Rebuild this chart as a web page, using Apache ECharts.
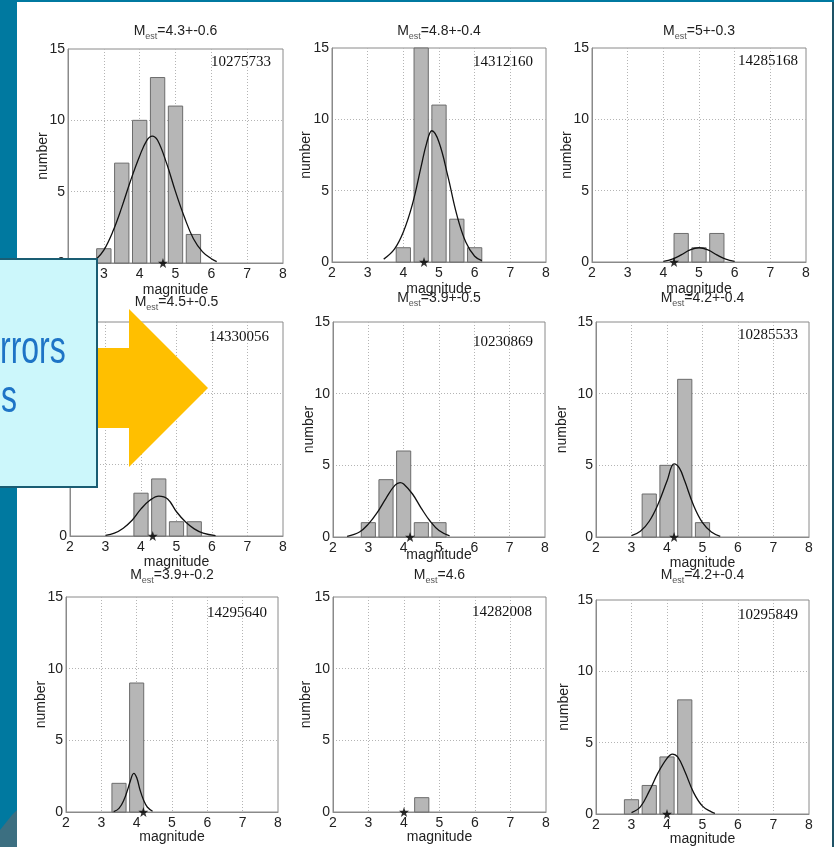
<!DOCTYPE html>
<html>
<head>
<meta charset="utf-8">
<script src="https://cdn.jsdelivr.net/npm/echarts@6/dist/echarts.min.js"></script>
<style>
  html, body { margin: 0; padding: 0; background: #0079a0; overflow: hidden; }
  #sheet { position: absolute; left: 17px; top: 2px; width: 815px; height: 845px; background: #fff; border-right: 2px solid #1e5266; }
  #chart { position: absolute; left: 0; top: 0; width: 834px; height: 847px; }
</style>
</head>
<body>
<div id="sheet"></div>
<div id="chart"></div>
<script>
// Event identifiers and estimated magnitudes (mean +- spread)
const eventIds = ['10275733', '14312160', '14285168', '14330056', '10230869', '10285533', '14295640', '14282008', '10295849'];
const estMean = ['4.3', '4.8', '5', '4.5', '3.9', '4.2', '3.9', '4.6', '4.2'];
const estSpread = ['0.6', '0.4', '0.3', '0.5', '0.5', '0.4', '0.2', '', '0.4'];
// Catalogue magnitude (star on the axis)
const catalogMag = [4.65, 4.58, 4.3, 4.33, 4.18, 4.2, 4.19, 4.0, 4.0];

// Histogram bins (magnitude bin centres) and counts
const bins1 = [3, 3.5, 4, 4.5, 5, 5.5];       const counts1 = [1, 7, 10, 13, 11, 2];
const bins2 = [4, 4.5, 5, 5.5, 6];            const counts2 = [1, 15, 11, 3, 1];
const bins3 = [4.5, 5, 5.5];                  const counts3 = [2, 1, 2];
const bins4 = [4, 4.5, 5, 5.5];               const counts4 = [3, 4, 1, 1];
const bins5 = [3, 3.5, 4, 4.5, 5];            const counts5 = [1, 4, 6, 1, 1];
const bins6 = [3.5, 4, 4.5, 5];               const counts6 = [3, 5, 11, 1];
const bins7 = [3.5, 4];                       const counts7 = [2, 9];
const bins8 = [4.5];                          const counts8 = [1];
const bins9 = [3, 3.5, 4, 4.5];               const counts9 = [1, 2, 4, 8];

// Fitted distribution curves (magnitude, number)
const fitMag1 = [2.8, 3.0, 3.25, 3.5, 3.75, 4.0, 4.2, 4.35, 4.5, 4.75, 5.0, 5.25, 5.5, 5.75, 6.0, 6.15];
const fitNum1 = [0.3, 0.9, 2.2, 3.9, 5.8, 7.5, 8.6, 8.9, 8.6, 7.0, 5.0, 3.2, 1.7, 0.8, 0.3, 0.1];
const fitMag2 = [3.45, 3.75, 4.0, 4.25, 4.5, 4.65, 4.8, 5.0, 5.25, 5.5, 5.75, 6.0, 6.2];
const fitNum2 = [0.2, 0.9, 2.1, 4.0, 6.7, 8.3, 9.2, 8.4, 6.0, 3.3, 1.4, 0.4, 0.1];
const fitMag3 = [4.0, 4.25, 4.5, 4.75, 5.0, 5.25, 5.5, 5.75, 6.0];
const fitNum3 = [0.05, 0.2, 0.5, 0.85, 1.0, 0.85, 0.5, 0.2, 0.05];
const fitMag4 = [3.0, 3.25, 3.5, 3.75, 4.0, 4.25, 4.5, 4.75, 5.0, 5.25, 5.5, 5.75, 6.1];
const fitNum4 = [0.05, 0.2, 0.55, 1.1, 1.9, 2.5, 2.8, 2.6, 1.7, 1.0, 0.5, 0.2, 0.03];
const fitMag5 = [2.4, 2.75, 3.0, 3.25, 3.5, 3.75, 3.9, 4.0, 4.25, 4.5, 4.75, 5.0, 5.3];
const fitNum5 = [0.05, 0.35, 0.9, 1.7, 2.7, 3.6, 3.8, 3.7, 3.0, 2.0, 1.1, 0.45, 0.08];
const fitMag6 = [3.0, 3.25, 3.5, 3.75, 4.0, 4.2, 4.35, 4.5, 4.75, 5.0, 5.25, 5.5];
const fitNum6 = [0.1, 0.4, 1.1, 2.3, 3.9, 5.1, 4.8, 3.9, 2.2, 1.0, 0.35, 0.05];
const fitMag7 = [3.35, 3.5, 3.65, 3.75, 3.8, 3.92, 4.0, 4.1, 4.2, 4.3, 4.45];
const fitNum7 = [0.02, 0.25, 0.9, 1.6, 2.0, 2.7, 2.4, 1.5, 0.8, 0.35, 0.05];
const fitMag8 = [];
const fitNum8 = [];
const fitMag9 = [3.0, 3.25, 3.5, 3.75, 4.0, 4.15, 4.3, 4.5, 4.75, 5.0, 5.25, 5.35];
const fitNum9 = [0.1, 0.5, 1.6, 2.9, 3.9, 4.2, 4.0, 3.0, 1.5, 0.55, 0.15, 0.05];

// Axis ticks
const magTicks = [2, 8, 1];   // min, max, step
const numTicks = [0, 15, 5];

const histBins = [bins1, bins2, bins3, bins4, bins5, bins6, bins7, bins8, bins9];
const histCounts = [counts1, counts2, counts3, counts4, counts5, counts6, counts7, counts8, counts9];
const fitMags = [fitMag1, fitMag2, fitMag3, fitMag4, fitMag5, fitMag6, fitMag7, fitMag8, fitMag9];
const fitNums = [fitNum1, fitNum2, fitNum3, fitNum4, fitNum5, fitNum6, fitNum7, fitNum8, fitNum9];

// ---- layout of the 3x3 panel grid (left, top, width, height) ----
const boxes = [
  [68, 49, 215, 214], [332, 48, 214, 214], [592, 48, 214, 214],
  [70, 322, 213, 214], [333, 322, 212, 215], [596, 322, 213, 215],
  [66, 597, 212, 215], [333, 597, 213, 215], [596, 600, 213, 214]
];
const titleY = [31, 31, 31, 302, 298, 298, 575, 575, 575];
const xNameGap = [20, 20, 20, 19, 11, 19, 18, 18, 18];
const yNameGap = [18, 19, 18, 18, 17, 27, 18, 20, 25];
const idInset = [12, 13, 8, 14, 12, 11, 11, 14, 11];
const idDrop = [13, 14, 13, 15, 20, 13, 16, 15, 15];

const SANS = '"Liberation Sans Narrow", "Liberation Sans", Arial, sans-serif';
const SERIF = '"Liberation Serif", "Times New Roman", serif';
const INK = '#222';
const FRAME = '#8a8a8a';
const BAR_HALF = 0.2; // half of the drawn bar width, in magnitude units

const grids = [], xAxes = [], yAxes = [], series = [], graphics = [];

boxes.forEach((b, i) => {
  grids.push({ left: b[0], top: b[1], width: b[2], height: b[3], show: true,
    borderColor: FRAME, borderWidth: 1, backgroundColor: '#fff' });

  xAxes.push({
    gridIndex: i, type: 'value', min: magTicks[0], max: magTicks[1], interval: magTicks[2],
    axisLine: { show: true, onZero: false, lineStyle: { color: FRAME, width: 1 } },
    axisTick: { show: false },
    axisLabel: { color: INK, fontSize: 14, fontFamily: SANS, margin: 4 },
    splitLine: { show: true, showMinLine: false, showMaxLine: false,
      lineStyle: { color: '#b4b4b4', type: [1, 2], width: 1 } },
    name: 'magnitude', nameLocation: 'middle', nameGap: xNameGap[i], nameMoveOverlap: false,
    nameTextStyle: { color: INK, fontSize: 14, fontFamily: SANS }
  });

  yAxes.push({
    gridIndex: i, type: 'value', min: numTicks[0], max: numTicks[1], interval: numTicks[2],
    axisLine: { show: true, onZero: false, lineStyle: { color: FRAME, width: 1 } },
    axisTick: { show: false },
    axisLabel: { color: INK, fontSize: 14, fontFamily: SANS, margin: 3 },
    splitLine: { show: true, showMinLine: false, showMaxLine: false,
      lineStyle: { color: '#b4b4b4', type: [1, 2], width: 1 } },
    name: 'number', nameLocation: 'middle', nameGap: yNameGap[i], nameRotate: 90, nameMoveOverlap: false,
    nameTextStyle: { color: INK, fontSize: 14, fontFamily: SANS }
  });

  // histogram bars
  series.push({
    type: 'custom', xAxisIndex: i, yAxisIndex: i, z: 2,
    data: histBins[i].map((m, j) => [m, histCounts[i][j]]),
    renderItem: (params, api) => {
      const m = api.value(0), n = api.value(1);
      const p0 = api.coord([m - BAR_HALF, n]);
      const p1 = api.coord([m + BAR_HALF, 0]);
      return {
        type: 'rect',
        shape: { x: p0[0], y: p0[1], width: p1[0] - p0[0], height: p1[1] - p0[1] },
        style: { fill: '#b6b6b6', stroke: '#6c6c6c', lineWidth: 1 }
      };
    }
  });

  // fitted curve
  if (fitMags[i].length) {
    series.push({
      type: 'line', xAxisIndex: i, yAxisIndex: i, z: 3,
      data: fitMags[i].map((m, j) => [m, fitNums[i][j]]),
      smooth: 0.4, symbol: 'none', silent: true,
      lineStyle: { color: '#111', width: 1.3 }
    });
  }

  // catalogue magnitude star
  series.push({
    type: 'scatter', xAxisIndex: i, yAxisIndex: i, z: 4, clip: false,
    data: [[catalogMag[i], 0]],
    symbol: 'path://M0,-10 L2.35,-3.24 L9.51,-3.09 L3.8,1.24 L5.88,8.09 L0,4 L-5.88,8.09 L-3.8,1.24 L-9.51,-3.09 L-2.35,-3.24 Z',
    symbolSize: 10, itemStyle: { color: '#000' }
  });

  // panel title: M_est = mean +- spread
  const tail = estSpread[i] ? '=' + estMean[i] + '+-' + estSpread[i] : '=' + estMean[i];
  graphics.push({
    type: 'text', x: b[0] + b[2] / 2, y: titleY[i] - 7, z: 10,
    style: {
      text: '{m|M}{s|est}{v|' + tail + '}',
      align: 'center', verticalAlign: 'top',
      rich: {
        m: { fontSize: 14, fontFamily: SANS, fill: INK, lineHeight: 14, verticalAlign: 'top' },
        s: { fontSize: 9, fontFamily: SANS, fill: '#555', lineHeight: 9, padding: [8, 0, 0, 0], verticalAlign: 'top' },
        v: { fontSize: 14, fontFamily: SANS, fill: INK, lineHeight: 14, verticalAlign: 'top' }
      }
    }
  });

  // event id in the upper right corner
  graphics.push({
    type: 'text', x: b[0] + b[2] - idInset[i], y: b[1] + idDrop[i], z: 10,
    style: { text: eventIds[i], align: 'right', verticalAlign: 'middle',
      font: '15px ' + SERIF, fill: '#111' }
  });
});

// slide decorations: corner swoosh, callout box and arrow
graphics.push({
  type: 'polygon', z: 1,
  shape: { points: [[0, 830], [4, 825], [8, 820], [12, 815], [17, 810], [17, 847], [0, 847]] },
  style: { fill: '#3c6f81' }
});
graphics.push({
  type: 'polygon', z: 100,
  shape: { points: [[80, 348], [129, 348], [129, 309], [208, 388], [129, 467], [129, 428], [80, 428]] },
  style: { fill: '#ffbf00' }
});
graphics.push({
  type: 'rect', z: 101,
  shape: { x: -3, y: 259, width: 100, height: 228 },
  style: { fill: '#ccf7fb', stroke: '#1a5d73', lineWidth: 2 }
});
graphics.push({
  type: 'text', z: 102, x: 0, y: 350, scaleY: 1.45,
  style: { text: 'rrors', align: 'left', verticalAlign: 'middle', font: '32px "Liberation Sans", Arial, sans-serif', fill: '#1e74c6' }
});
graphics.push({
  type: 'text', z: 102, x: 1, y: 399, scaleY: 1.45,
  style: { text: 's', align: 'left', verticalAlign: 'middle', font: '32px "Liberation Sans", Arial, sans-serif', fill: '#1e74c6' }
});

const chart = echarts.init(document.getElementById('chart'), null, { renderer: 'canvas' });
chart.setOption({
  animation: false,
  backgroundColor: 'transparent',
  grid: grids,
  xAxis: xAxes,
  yAxis: yAxes,
  series: series,
  graphic: { elements: graphics }
});
</script>
</body>
</html>
